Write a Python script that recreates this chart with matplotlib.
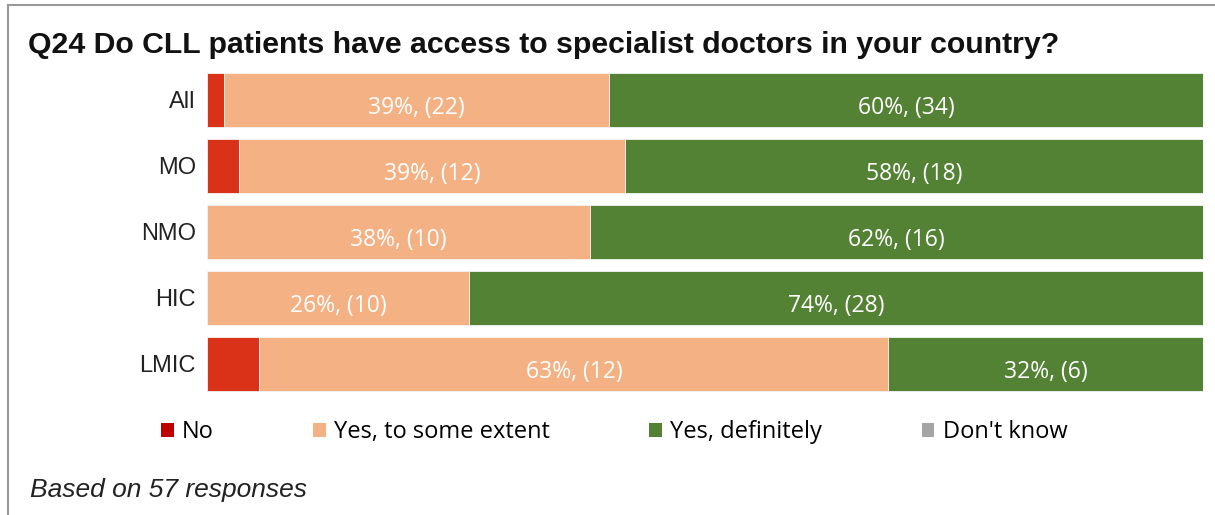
import numpy as np
import matplotlib.pyplot as plt
from matplotlib.patches import Patch
from matplotlib.lines import Line2D

groups = ["All", "MO", "NMO", "HIC", "LMIC"]
answers = ["No", "Yes, to some extent", "Yes, definitely", "Don't know"]
# response counts per group, one list per answer
no_counts = [1, 1, 0, 0, 1]
some_counts = [22, 12, 10, 10, 12]
definitely_counts = [34, 18, 16, 28, 6]
dont_know_counts = [0, 0, 0, 0, 0]
total_responses = 57

bar_colors = ["#D93218", "#F4B183", "#548235", "#A5A5A5"]
legend_colors = ["#C00000", "#F4B183", "#548235", "#A5A5A5"]

counts = np.array([no_counts, some_counts, definitely_counts, dont_know_counts], dtype=float)
pct = counts / counts.sum(axis=0) * 100

fig = plt.figure(figsize=(12.15, 5.15), dpi=100)
ax = fig.add_axes([207 / 1215, 1 - 397 / 515, 996 / 1215, 330 / 515])

y = np.arange(len(groups))
left = np.zeros(len(groups))
for k in range(len(answers)):
    ax.barh(y, pct[k], left=left, height=0.82, color=bar_colors[k],
            edgecolor="#f3f3f3", linewidth=0.6)
    # value labels only for the two large segments
    if k in (1, 2):
        for i in range(len(groups)):
            if counts[k, i] > 0:
                ax.text(left[i] + pct[k, i] / 2, y[i] + 0.12,
                        f"{pct[k, i]:.0f}%, ({int(counts[k, i])})",
                        ha="center", va="center", color="white",
                        fontsize=16.5, family="Open Sans")
    left += pct[k]

ax.set_xlim(0, 100)
ax.set_ylim(len(groups) - 0.5, -0.5)
ax.set_yticks(y)
ax.set_yticklabels(groups, family="Liberation Sans", fontsize=17, color="#222222")
ax.tick_params(axis="y", length=0, pad=8)
ax.set_xticks([])
for s in ax.spines.values():
    s.set_visible(False)

fig.text(28 / 1215, 1 - 45 / 515,
         "Q24 Do CLL patients have access to specialist doctors in your country?",
         family="Liberation Sans", fontweight="bold", fontsize=21.8,
         va="center", ha="left", color="#111111")

handles = [Patch(facecolor=c, edgecolor="none") for c in legend_colors]
fig.legend(handles, answers, loc="center", bbox_to_anchor=(614 / 1215, 1 - 432 / 515),
           ncol=4, frameon=False, handlelength=0.55, handleheight=0.55,
           handletextpad=0.35, columnspacing=4.2,
           prop={"family": "Open Sans", "size": 17})

fig.text(30 / 1215, 1 - 490 / 515, f"Based on {total_responses} responses",
         family="Liberation Sans", style="italic", fontsize=19,
         va="center", ha="left", color="#222222")

# outer frame (left and top edges)
fig.add_artist(Line2D([8 / 1215, 8 / 1215], [0, 1 - 5 / 515],
                      transform=fig.transFigure, color="#999999", lw=1.5))
fig.add_artist(Line2D([8 / 1215, 1], [1 - 5 / 515, 1 - 5 / 515],
                      transform=fig.transFigure, color="#999999", lw=1.5))

fig.savefig("out.png", dpi=100)
